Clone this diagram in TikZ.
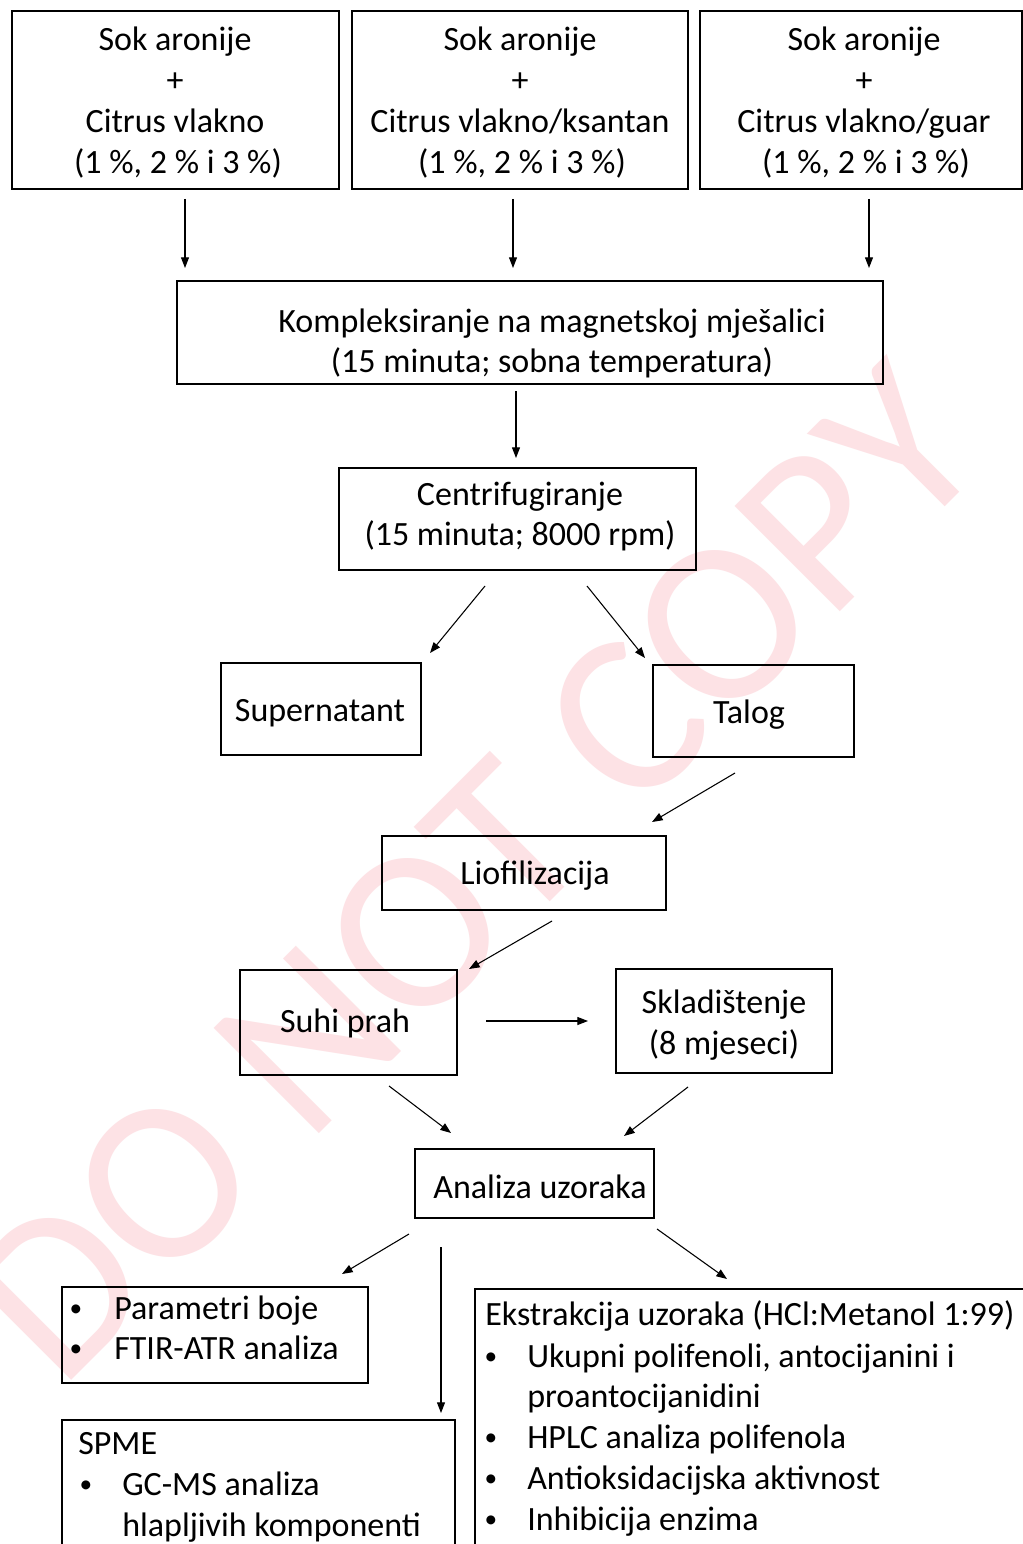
\documentclass[tikz,border=0pt]{standalone}
\usepackage{fontspec}
\setmainfont{Carlito}
\usetikzlibrary{arrows.meta,fit}
\definecolor{wmcol}{RGB}{253,226,229}
\begin{document}
\begin{tikzpicture}[x=0.75pt,y=-0.75pt,
  box/.style={draw=black, line width=1.3pt, inner sep=0pt},
  txt/.style={font=\fontsize{25.5}{30}\selectfont, inner sep=0pt, anchor=base},
  ltxt/.style={txt, anchor=base west},
  bul/.style={font=\fontsize{19}{19}\selectfont, inner sep=0pt, anchor=base},
  arr/.style={draw=black, line width=0.8pt, -{Triangle[length=8pt,width=6pt]}},
  wmark/.style={font=\fontsize{174}{174}\selectfont, text=wmcol, inner sep=0pt}]
\useasboundingbox (0,0) rectangle (1023,1544);
\clip (0,0) rectangle (1023,1544);
\fill[white] (0,0) rectangle (1023,1544);
% watermark
\node[wmark, rotate=45] (wm) at (474,873) {DO NOT COPY};
% boxes
\node[box, fit={(12,11) (339,189)}] (b1) {};
\node[box, fit={(352,11) (688,189)}] (b2) {};
\node[box, fit={(700,11) (1022,189)}] (b3) {};
\node[box, fit={(177,281) (883,384)}] (komp) {};
\node[box, fit={(339,468) (696,570)}] (centri) {};
\node[box, fit={(221,663) (421,755)}] (super) {};
\node[box, fit={(653,665) (854,757)}] (talog) {};
\node[box, fit={(382,836) (666,910)}] (lio) {};
\node[box, fit={(240,970) (457,1075)}] (suhi) {};
\node[box, fit={(616,969) (832,1073)}] (sklad) {};
\node[box, fit={(415,1149) (654,1218)}] (anal) {};
\node[box, fit={(62,1287) (368,1383)}] (param) {};
\node[box, fit={(62,1420) (455,1570)}] (spme) {};
\node[box, fit={(475,1289) (1035,1570)}] (ekstr) {};
% texts top boxes
\node[txt] (b1t1) at (175,51) {Sok aronije};
\node[txt] (b1t2) at (175,92) {+};
\node[txt] (b1t3) at (175,133) {Citrus vlakno};
\node[txt] (b1t4) at (178,174) {(1 \%, 2 \% i 3 \%)};
\node[txt] (b2t1) at (520,51) {Sok aronije};
\node[txt] (b2t2) at (520,92) {+};
\node[txt] (b2t3) at (520,133) {Citrus vlakno/ksantan};
\node[txt] (b2t4) at (522,174) {(1 \%, 2 \% i 3 \%)};
\node[txt] (b3t1) at (864,51) {Sok aronije};
\node[txt] (b3t2) at (864,92) {+};
\node[txt] (b3t3) at (864,133) {Citrus vlakno/guar};
\node[txt] (b3t4) at (866,174) {(1 \%, 2 \% i 3 \%)};
\node[txt] (kt1) at (552,332) {Kompleksiranje na magnetskoj mješalici};
\node[txt] (kt2) at (552,372) {(15 minuta; sobna temperatura)};
\node[txt] (ct1) at (520,505) {Centrifugiranje};
\node[txt] (ct2) at (520,545) {(15 minuta; 8000 rpm)};
\node[txt] (st) at (320,721) {Supernatant};
\node[txt] (tt) at (749,723) {Talog};
\node[txt] (lt) at (535,884) {Liofilizacija};
\node[txt] (sht) at (345,1032) {Suhi prah};
\node[txt] (skt1) at (724,1013) {Skladištenje};
\node[txt] (skt2) at (724,1054) {(8 mjeseci)};
\node[txt] (at) at (540,1198) {Analiza uzoraka};
% parametri
\node[bul] (pb1) at (76,1316) {•};
\node[ltxt] (pt1) at (114,1319) {Parametri boje};
\node[bul] (pb2) at (76,1356) {•};
\node[ltxt] (pt2) at (114,1359) {FTIR-ATR analiza};
% spme
\node[ltxt] (sp0) at (78,1454) {SPME};
\node[bul] (spb1) at (86,1492) {•};
\node[ltxt] (sp1) at (122,1495) {GC-MS analiza};
\node[ltxt] (sp2) at (122,1536) {hlapljivih komponenti};
% ekstrakcija
\node[ltxt] (e0) at (485,1325) {Ekstrakcija uzoraka (HCl:Metanol 1:99)};
\node[bul] (eb1) at (491,1364) {•};
\node[ltxt] (e1) at (527,1367) {Ukupni polifenoli, antocijanini i};
\node[ltxt] (e1b) at (527,1407) {proantocijanidini};
\node[bul] (eb2) at (491,1445) {•};
\node[ltxt] (e2) at (527,1448) {HPLC analiza polifenola};
\node[bul] (eb3) at (491,1486) {•};
\node[ltxt] (e3) at (527,1489) {Antioksidacijska aktivnost};
\node[bul] (eb4) at (491,1527) {•};
\node[ltxt] (e4) at (527,1530) {Inhibicija enzima};
% arrow end points
\coordinate (a1s) at (185,199); \coordinate (a1e) at (185,268);
\coordinate (a2s) at (513,199); \coordinate (a2e) at (513,268);
\coordinate (a3s) at (869,199); \coordinate (a3e) at (869,268);
\coordinate (a4s) at (516,391); \coordinate (a4e) at (516,458);
\coordinate (a5s) at (485,586); \coordinate (a5e) at (430,653);
\coordinate (a6s) at (587,586); \coordinate (a6e) at (645,658);
\coordinate (a7s) at (735,773); \coordinate (a7e) at (652,822);
\coordinate (a8s) at (552,921); \coordinate (a8e) at (469,969);
\coordinate (a9s) at (486,1021); \coordinate (a9e) at (588,1021);
\coordinate (a10s) at (389,1086); \coordinate (a10e) at (451,1133);
\coordinate (a11s) at (688,1087); \coordinate (a11e) at (624,1136);
\coordinate (a12s) at (409,1234); \coordinate (a12e) at (342,1274);
\coordinate (a13s) at (441,1247); \coordinate (a13e) at (441,1413);
\coordinate (a14s) at (657,1229); \coordinate (a14e) at (727,1279);
\foreach \i in {1,...,14} {\draw[arr] (a\i s) -- (a\i e);}
\end{tikzpicture}
\end{document}
